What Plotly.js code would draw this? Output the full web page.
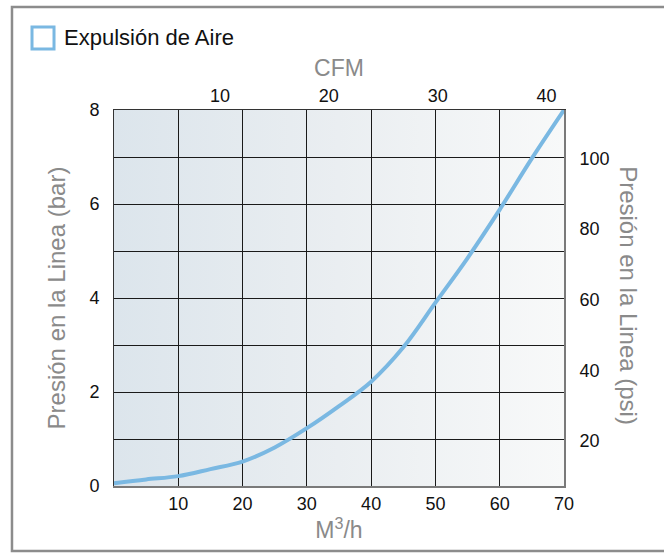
<!DOCTYPE html>
<html>
<head>
<meta charset="utf-8">
<script src="https://cdn.plot.ly/plotly-3.0.1.min.js"></script>
<style>html,body{margin:0;padding:0;background:#fff;}#chart{width:664px;height:553px;}</style>
</head>
<body>
<div id="chart"></div>
<script>
// Data
const seriesName = "Expulsión de Aire";
const flowM3h = [0, 5, 10, 15, 20, 25, 30, 35, 40, 45, 50, 55, 60, 65, 70];
const pressureBar = [0.06, 0.14, 0.21, 0.36, 0.52, 0.82, 1.23, 1.70, 2.22, 2.95, 3.90, 4.85, 5.88, 6.97, 8.0];

const barTickVals = [0, 2, 4, 6, 8];
const m3hTickVals = [10, 20, 30, 40, 50, 60, 70];
const cfmTickVals = [10, 20, 30, 40];
const psiTickVals = [20, 40, 60, 80, 100];

const xTitle = "M<sup>3</sup>/h";
const x2Title = "CFM";
const yTitle = "Presión en la Linea (bar)";
const y2Title = "Presión en la Linea (psi)";

const FONT = "Liberation Sans, Arial, Helvetica, sans-serif";
const GREY = "#8a8a8a";
const LINE = "#7ab8e2";
const GRID = "#1a1a1a";

const svg = "<svg xmlns='http://www.w3.org/2000/svg' width='100' height='100' preserveAspectRatio='none'>" +
  "<defs><linearGradient id='g' x1='0' x2='1' y1='0' y2='0'>" +
  "<stop offset='0' stop-color='#dce5ec'/><stop offset='0.5' stop-color='#eaeef1'/><stop offset='1' stop-color='#f8f9f9'/>" +
  "</linearGradient></defs><rect width='100' height='100' fill='url(#g)'/></svg>";
const bgSrc = "data:image/svg+xml;charset=utf-8," + encodeURIComponent(svg);

const traces = [
  {
    x: flowM3h, y: pressureBar, xaxis: "x", yaxis: "y",
    mode: "lines", line: {color: LINE, width: 4, shape: "spline", smoothing: 1},
    showlegend: false, hoverinfo: "skip"
  },
  {
    x: [], y: [], xaxis: "x2", yaxis: "y2", mode: "lines",
    showlegend: false, hoverinfo: "skip"
  }
];

const tickFont = {family: FONT, size: 18, color: "#111"};
const titleFont = {family: FONT, size: 24, color: GREY};

const layout = {
  width: 664, height: 553,
  margin: {l: 114, r: 100, t: 110, b: 67, pad: 0},
  paper_bgcolor: "rgba(0,0,0,0)",
  plot_bgcolor: "rgba(0,0,0,0)",
  font: {family: FONT, size: 18, color: "#111"},
  showlegend: false,
  xaxis: {
    range: [0, 70], tickvals: m3hTickVals, ticks: "", ticklabelstandoff: 0,
    showgrid: true, gridcolor: GRID, gridwidth: 1,
    showline: true, linecolor: "#7a7a7a", linewidth: 2,
    zeroline: false, fixedrange: true, tickfont: tickFont,
    title: {text: xTitle, font: {family: FONT, size: 23, color: GREY}, standoff: 0}
  },
  xaxis2: {
    overlaying: "x", side: "top", anchor: "y",
    range: [0.27, 41.6], tickvals: cfmTickVals, ticks: "", ticklabelstandoff: 0,
    showgrid: false, showline: true, linecolor: "#333", linewidth: 1,
    zeroline: false, fixedrange: true, tickfont: tickFont,
    title: {text: x2Title, font: {family: FONT, size: 23, color: GREY}, standoff: 2}
  },
  yaxis: {
    range: [0, 8], tickvals: barTickVals, ticks: "", ticklabelstandoff: 10,
    showgrid: true, gridcolor: GRID, gridwidth: 1,
    minor: {dtick: 1, showgrid: true, gridcolor: GRID, gridwidth: 1, ticks: ""},
    showline: true, linecolor: "#333", linewidth: 1,
    zeroline: false, fixedrange: true, tickfont: tickFont,
    title: {text: yTitle, font: titleFont, standoff: 16}
  },
  yaxis2: {
    overlaying: "y", side: "right", anchor: "x",
    range: [7.2, 113.7], tickvals: psiTickVals, ticks: "", ticklabelstandoff: 10,
    showgrid: false, showline: true, linecolor: "#7a7a7a", linewidth: 2,
    zeroline: false, fixedrange: true, tickfont: tickFont
  },
  images: [{
    source: bgSrc, xref: "paper", yref: "paper", x: 0, y: 1, sizex: 1, sizey: 1,
    xanchor: "left", yanchor: "top", sizing: "stretch", layer: "below"
  }],
  shapes: [
    {type: "rect", xref: "paper", yref: "paper", x0: -0.2267, x1: 1.45, y0: -0.1729, y1: 1.274,
     line: {color: "#8c8c8c", width: 2.5}, fillcolor: "rgba(0,0,0,0)", layer: "above"},
    {type: "rect", xref: "paper", yref: "paper", x0: -0.1822, x1: -0.1333, y0: 1.1622, y1: 1.2207,
     line: {color: LINE, width: 3}, fillcolor: "rgba(255,255,255,0.6)", layer: "above"}
  ],
  annotations: [
    {text: seriesName, xref: "paper", yref: "paper", x: -0.1156, y: 1.1915,
     xanchor: "left", yanchor: "middle", showarrow: false,
     font: {family: FONT, size: 22, color: "#111"}},
    {text: y2Title, xref: "paper", yref: "paper", x: 1.1444, y: 0.505,
     xanchor: "center", yanchor: "middle", showarrow: false, textangle: 90,
     font: titleFont}
  ]
};

Plotly.newPlot("chart", traces, layout, {staticPlot: true, displayModeBar: false});
</script>
</body>
</html>
